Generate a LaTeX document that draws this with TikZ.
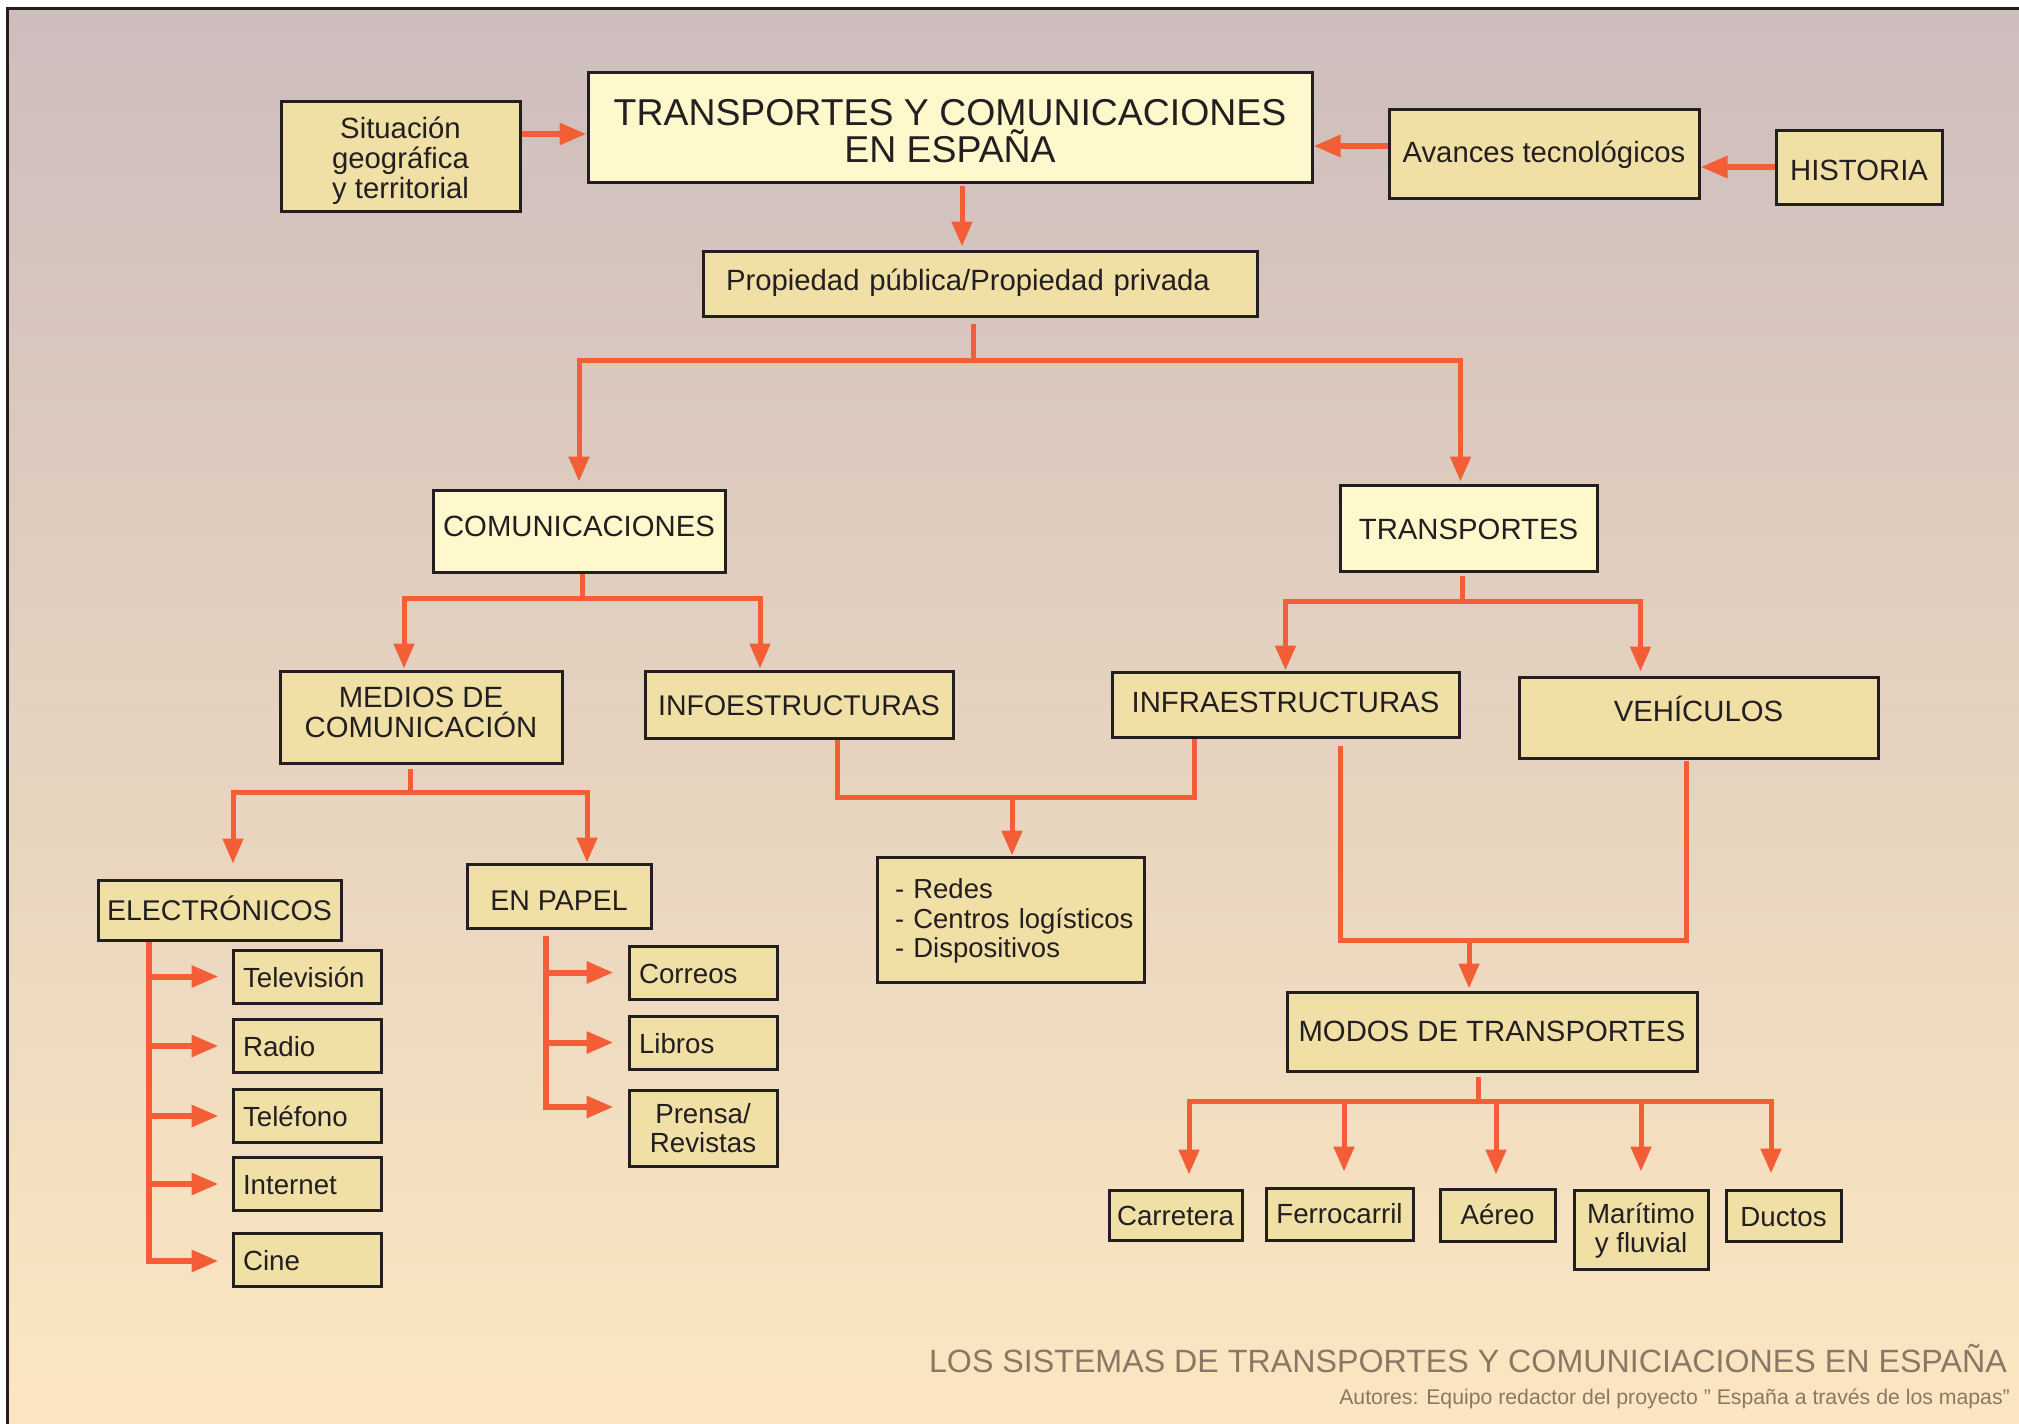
\documentclass[tikz,border=0pt]{standalone}
\usepackage{fontspec}
\setmainfont{Liberation Sans}
\usetikzlibrary{arrows.meta,calc}
\definecolor{bgtop}{RGB}{205,189,189}
\definecolor{bgbot}{RGB}{253,231,193}
\definecolor{boxfill}{RGB}{240,224,166}
\definecolor{lightfill}{RGB}{255,248,204}
\definecolor{edgeclr}{RGB}{35,31,32}
\definecolor{arrclr}{RGB}{243,94,54}
\definecolor{footclr}{RGB}{138,120,101}
\newcommand{\fntbox}{\fontsize{29.3}{30.2}\selectfont}
\newcommand{\fntmid}{\fontsize{28.5}{29.5}\selectfont}
\newcommand{\fntredes}{\fontsize{27.5}{29.5}\selectfont}
\newcommand{\fntlist}{\fontsize{27.7}{28.5}\selectfont}
\newcommand{\fnttitle}{\fontsize{37.4}{37}\selectfont}
\newcommand{\fntfoot}{\fontsize{32.2}{34}\selectfont}
\newcommand{\fntauth}{\fontsize{21.25}{23}\selectfont}
\tikzset{
  box/.style={draw=edgeclr, line width=3pt, fill=boxfill, text=edgeclr, inner sep=0pt, align=center, font=\fntbox},
  sl/.style={text height=#1, text depth=0pt},
  sl/.default=21pt,
  lightbox/.style={box, fill=lightfill},
  listbox/.style={box, sl, font=\fntlist, align=left, inner xsep=10pt, text width=128pt, minimum height=53pt},
  smallbox/.style={box, font=\fntlist},
  conn/.style={draw=arrclr, line width=5pt},
  arr/.style={conn, -{Triangle[length=25pt,width=20pt]}},
  harr/.style={conn, line width=6pt, -{Triangle[length=27pt,width=21pt]}},
  foottext/.style={anchor=base east, text=footclr, inner sep=0pt}
}
\begin{document}
\begin{tikzpicture}[x=1pt,y=-1pt]
\useasboundingbox (0,0) rectangle (2019,1424);
\clip (0,0) rectangle (2019,1424);
\fill[white] (0,0) rectangle (2019,1424);
\shadedraw[top color=bgtop, bottom color=bgbot, draw=edgeclr, line width=3pt] (7.5,8.5) rectangle (2040,1440);

% top row
\node[lightbox, font=\fnttitle, text height=70pt, text depth=0pt, minimum width=724pt, minimum height=110pt] (title) at (950,127) {TRANSPORTES Y COMUNICACIONES\\EN ESPAÑA};
\node[box, text height=85pt, text depth=0pt, minimum width=239pt, minimum height=110pt] (sit) at (400.5,156) {Situación\\geográfica\\y territorial};
\node[box, sl=17pt, minimum width=310pt, minimum height=89pt] (avan) at (1544,153.5) {Avances tecnológicos};
\node[box, sl=26pt, minimum width=166pt, minimum height=74pt] (hist) at (1859,167) {HISTORIA};
\node[box, sl=13pt, align=left, inner xsep=23pt, text width=508pt, minimum height=65pt] (prop) at (980,283.5) {Propiedad pública/Propiedad privada};

% second level
\node[lightbox, sl=11.5pt, minimum width=292pt, minimum height=82pt] (com) at (579,531) {COMUNICACIONES};
\node[lightbox, sl=22.6pt, minimum width=257pt, minimum height=86pt] (trans) at (1468.5,528) {TRANSPORTES};

% third level
\node[box, text depth=9pt, minimum width=282pt, minimum height=92pt] (medios) at (421,717) {MEDIOS DE\\COMUNICACIÓN};
\node[box, sl, font=\fntmid, minimum width=308pt, minimum height=67pt] (info) at (799,704.5) {INFOESTRUCTURAS};
\node[box, sl=16.5pt, minimum width=347pt, minimum height=65pt] (infra) at (1285.5,704.5) {INFRAESTRUCTURAS};
\node[box, sl=8.5pt, minimum width=359pt, minimum height=81pt] (veh) at (1698.5,717.5) {VEHÍCULOS};

% fourth level
\node[box, sl=20pt, font=\fntmid, minimum width=243pt, minimum height=60pt] (elec) at (219.5,910) {ELECTRÓNICOS};
\node[box, sl=28pt, font=\fntmid, minimum width=184pt, minimum height=64pt] (papel) at (559,896) {EN PAPEL};
\node[box, font=\fntredes, text height=23pt, align=left, inner xsep=18pt, text width=231pt, minimum height=125pt] (redes) at (1010.5,919.5) {\mbox{- Redes}\\\mbox{- Centros logísticos}\\\mbox{- Dispositivos}};
\node[box, sl=20.4pt, minimum width=410pt, minimum height=79pt] (modos) at (1492,1031.5) {MODOS DE TRANSPORTES};

% lists
\node[listbox] (tv) at (307,976.5) {Televisión};
\node[listbox] (radio) at (307,1046) {Radio};
\node[listbox] (tel) at (307,1116) {Teléfono};
\node[listbox] (inet) at (307,1184) {Internet};
\node[listbox] (cine) at (307,1260) {Cine};
\node[listbox] (correos) at (703,972.5) {Correos};
\node[listbox] (libros) at (703,1042.5) {Libros};
\node[smallbox, text depth=0pt, minimum width=148pt, minimum height=76pt] (prensa) at (703,1128) {Prensa/\\Revistas};

% transport modes
\node[smallbox, sl=20pt, minimum width=133pt, minimum height=50pt] (carr) at (1175.5,1215) {Carretera};
\node[smallbox, sl=18.6pt, minimum width=147pt, minimum height=52pt] (ferro) at (1339.5,1214) {Ferrocarril};
\node[smallbox, sl=18pt, minimum width=115pt, minimum height=52pt] (aereo) at (1497.5,1215) {Aéreo};
\node[smallbox, text depth=3pt, minimum width=134pt, minimum height=79pt] (mar) at (1641,1229.5) {Marítimo\\y fluvial};
\node[smallbox, sl=21pt, minimum width=115pt, minimum height=51pt] (ductos) at (1783.5,1215.5) {Ductos};

% footer
\node[foottext, font=\fntfoot] (foot) at (2007,1372) {LOS SISTEMAS DE TRANSPORTES Y COMUNICIACIONES EN ESPAÑA};
\node[foottext, font=\fntauth] (auth) at (2010,1404) {Autores: Equipo redactor del proyecto " España a través de los mapas"};

% connectors: top row
\draw[harr] (sit.east |- 0,134) -- (title.west |- 0,134);
\draw[harr] (avan.west |- 0,146) -- (title.east |- 0,146);
\draw[harr] (hist.west |- 0,167) -- (avan.east |- 0,167);
\draw[arr] ($(title.south)+(12,2)$) -- ($(prop.north)+(-18,-3)$);

% prop -> com / trans
\coordinate (b1) at (973,360);
\draw[conn] ($(prop.south)+(-7,6)$) -- (b1);
\draw[arr] (b1) -| ($(com.north)+(0,-7)$);
\draw[arr] (b1) -| ($(trans.north)+(-8,-2)$);

% com -> medios / info
\coordinate (b2) at (582,598);
\draw[conn] ($(com.south)+(3,0)$) -- (b2);
\draw[arr] (b2) -| ($(medios.north)+(-17,-1)$);
\draw[arr] (b2) -| ($(info.north)+(-39,-1)$);

% trans -> infra / veh
\coordinate (b3) at (1462,601);
\draw[conn] ($(trans.south)+(-6.5,3)$) -- (b3);
\draw[arr] (b3) -| ($(infra.north)+(0,0)$);
\draw[arr] (b3) -| ($(veh.north)+(-58,-4)$);

% medios -> elec / papel
\coordinate (b4) at (410,792);
\draw[conn] ($(medios.south)+(-11,4)$) -- (b4);
\draw[arr] (b4) -| ($(elec.north)+(13.5,-15)$);
\draw[arr] (b4) -| ($(papel.north)+(28,0)$);

% info + infra -> redes
\coordinate (b5) at (1012,796);
\draw[conn] ($(info.south)+(38,0)$) |- ($(infra.south)+(-91.5,59)$) -- ($(infra.south)+(-91.5,0)$);
\draw[arr] (b5) -- ($(redes.north)+(1.5,0)$);

% infra + veh -> modos
\coordinate (b6) at (1469,939);
\draw[conn] ($(infra.south)+(54.5,7)$) |- ($(veh.south)+(-12.5,181)$) -- ($(veh.south)+(-12.5,1)$);
\draw[arr] (b6) -- ($(modos.north)+(-23,-2)$);

% modos -> modes
\coordinate (b7) at (1478,1101);
\draw[conn] ($(modos.south)+(-14,4)$) -- (b7);
\draw[arr] (b7) -| ($(carr.north)+(13.5,-14)$);
\draw[arr] (b7) -| ($(ferro.north)+(4.5,-15)$);
\draw[arr] (b7) -| ($(aereo.north)+(-1.5,-13)$);
\draw[arr] (b7) -| ($(mar.north)+(0,-17)$);
\draw[arr] (b7) -| ($(ductos.north)+(-12.5,-15)$);

% electronic list
\coordinate (espine) at ($(elec.south)+(-70.5,0)$);
\draw[harr] (espine) |- ($(cine.west)+(-13,1)$);
\draw[harr] (espine |- tv.west) -- ($(tv.west)+(-13,0)$);
\draw[harr] (espine |- radio.west) -- ($(radio.west)+(-13,0)$);
\draw[harr] (espine |- tel.west) -- ($(tel.west)+(-13,0)$);
\draw[harr] (espine |- inet.west) -- ($(inet.west)+(-13,0)$);

% paper list
\coordinate (pspine) at ($(papel.south)+(-13,6)$);
\draw[harr] (pspine) |- ($(prensa.west)+(-14,-21)$);
\draw[harr] (pspine |- correos.west) -- ($(correos.west)+(-14,0)$);
\draw[harr] (pspine |- libros.west) -- ($(libros.west)+(-14,0)$);
\end{tikzpicture}
\end{document}
